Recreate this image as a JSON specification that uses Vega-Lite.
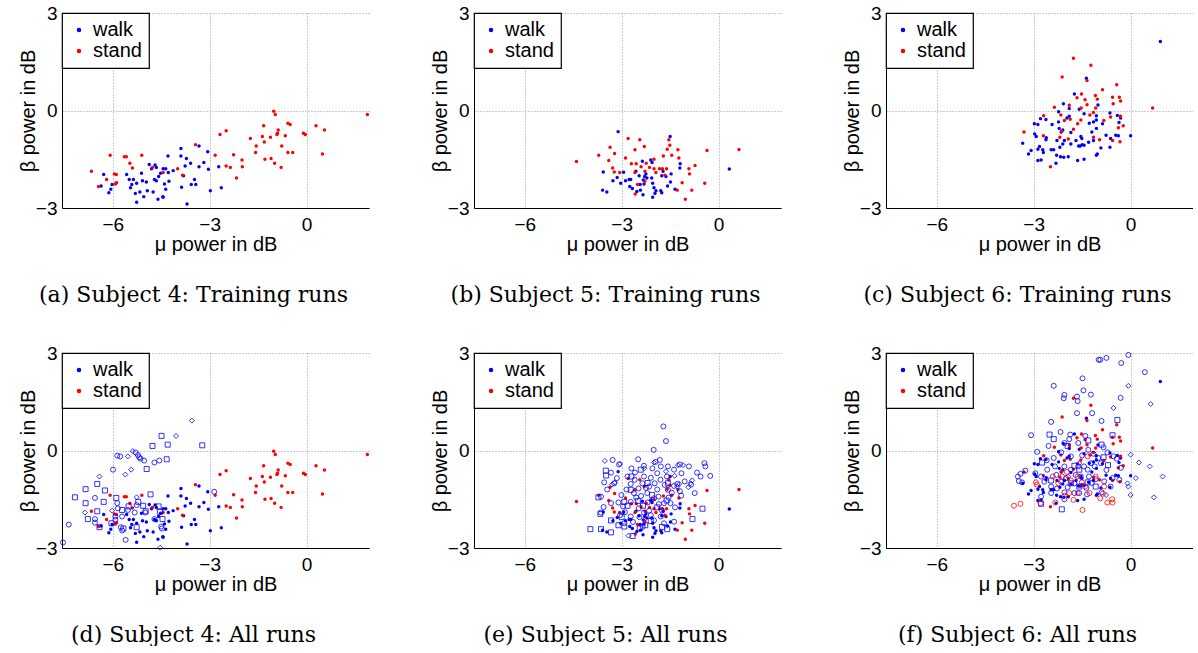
{
"$schema":"https://vega.github.io/schema/vega-lite/v6.json",
"background":"white",
"padding":{"left":18,"top":4,"right":0,"bottom":0},
"columns":3,
"bounds":"flush",
"spacing":{"row":145,"column":105},
"resolve":{"scale":{"color":"independent","shape":"independent"},"legend":{"color":"independent"}},
"datasets":{
"s4t":[
{"cls":"walk","mu":-3.33,"beta":-1.09},{"cls":"walk","mu":-3.89,"beta":-1.17},{"cls":"walk","mu":-3.06,"beta":-1.27},{"cls":"walk","mu":-4.29,"beta":-1.40},{"cls":"walk","mu":-3.89,"beta":-1.40},{"cls":"walk","mu":-3.72,"beta":-1.48},{"cls":"walk","mu":-3.59,"beta":-1.62},{"cls":"walk","mu":-3.76,"beta":-1.71},{"cls":"walk","mu":-3.33,"beta":-1.73},{"cls":"walk","mu":-3.18,"beta":-1.60},{"cls":"walk","mu":-3.04,"beta":-1.81},{"cls":"walk","mu":-2.72,"beta":-1.73},{"cls":"walk","mu":-3.81,"beta":-2.01},{"cls":"walk","mu":-4.13,"beta":-1.85},{"cls":"walk","mu":-4.36,"beta":-1.79},{"cls":"walk","mu":-4.44,"beta":-1.79},{"cls":"walk","mu":-4.65,"beta":-1.75},{"cls":"walk","mu":-4.69,"beta":-1.68},{"cls":"walk","mu":-4.87,"beta":-1.66},{"cls":"walk","mu":-4.80,"beta":-1.79},{"cls":"walk","mu":-4.52,"beta":-1.93},{"cls":"walk","mu":-4.58,"beta":-2.03},{"cls":"walk","mu":-4.71,"beta":-2.12},{"cls":"walk","mu":-4.65,"beta":-2.16},{"cls":"walk","mu":-4.28,"beta":-1.91},{"cls":"walk","mu":-4.26,"beta":-2.18},{"cls":"walk","mu":-4.40,"beta":-2.26},{"cls":"walk","mu":-4.36,"beta":-2.42},{"cls":"walk","mu":-4.45,"beta":-2.65},{"cls":"walk","mu":-4.60,"beta":-2.73},{"cls":"walk","mu":-4.44,"beta":-2.67},{"cls":"walk","mu":-4.75,"beta":-2.51},{"cls":"walk","mu":-5.04,"beta":-2.65},{"cls":"walk","mu":-4.96,"beta":-2.20},{"cls":"walk","mu":-5.08,"beta":-2.16},{"cls":"walk","mu":-5.11,"beta":-1.93},{"cls":"walk","mu":-4.93,"beta":-2.47},{"cls":"walk","mu":-5.16,"beta":-2.51},{"cls":"walk","mu":-5.26,"beta":-2.24},{"cls":"walk","mu":-5.30,"beta":-2.55},{"cls":"walk","mu":-5.26,"beta":-2.82},{"cls":"walk","mu":-5.36,"beta":-2.12},{"cls":"walk","mu":-5.49,"beta":-2.12},{"cls":"walk","mu":-5.45,"beta":-2.38},{"cls":"walk","mu":-5.41,"beta":-2.28},{"cls":"walk","mu":-5.57,"beta":-1.97},{"cls":"walk","mu":-6.02,"beta":-2.28},{"cls":"walk","mu":-6.06,"beta":-2.42},{"cls":"walk","mu":-6.12,"beta":-2.53},{"cls":"walk","mu":-6.28,"beta":-1.97},{"cls":"walk","mu":-6.36,"beta":-2.32},{"cls":"walk","mu":-3.87,"beta":-2.36},{"cls":"walk","mu":-3.57,"beta":-2.28},{"cls":"walk","mu":-3.43,"beta":-2.28},{"cls":"walk","mu":-3.47,"beta":-2.12},{"cls":"walk","mu":-2.98,"beta":-2.47},{"cls":"walk","mu":-2.64,"beta":-2.38},{"cls":"walk","mu":-3.70,"beta":-2.88},
{"cls":"stand","mu":1.88,"beta":-0.12},{"cls":"stand","mu":-1.02,"beta":-0.02},{"cls":"stand","mu":-0.97,"beta":-0.12},{"cls":"stand","mu":-0.58,"beta":-0.39},{"cls":"stand","mu":-0.51,"beta":-0.43},{"cls":"stand","mu":0.29,"beta":-0.47},{"cls":"stand","mu":0.55,"beta":-0.60},{"cls":"stand","mu":-0.10,"beta":-0.70},{"cls":"stand","mu":-0.04,"beta":-0.74},{"cls":"stand","mu":-1.33,"beta":-0.47},{"cls":"stand","mu":-0.88,"beta":-0.60},{"cls":"stand","mu":-0.66,"beta":-0.78},{"cls":"stand","mu":-0.90,"beta":-0.70},{"cls":"stand","mu":-0.92,"beta":-0.74},{"cls":"stand","mu":-1.12,"beta":-0.82},{"cls":"stand","mu":-1.37,"beta":-0.80},{"cls":"stand","mu":-1.31,"beta":-0.97},{"cls":"stand","mu":-1.74,"beta":-0.86},{"cls":"stand","mu":-1.56,"beta":-1.09},{"cls":"stand","mu":-1.58,"beta":-1.29},{"cls":"stand","mu":-0.77,"beta":-1.09},{"cls":"stand","mu":-0.58,"beta":-1.29},{"cls":"stand","mu":-0.43,"beta":-1.29},{"cls":"stand","mu":-1.10,"beta":-1.48},{"cls":"stand","mu":-1.29,"beta":-1.50},{"cls":"stand","mu":-0.99,"beta":-1.62},{"cls":"stand","mu":-0.79,"beta":-1.75},{"cls":"stand","mu":0.49,"beta":-1.34},{"cls":"stand","mu":-2.49,"beta":-0.62},{"cls":"stand","mu":-2.68,"beta":-0.74},{"cls":"stand","mu":-3.44,"beta":-1.05},{"cls":"stand","mu":-2.83,"beta":-1.38},{"cls":"stand","mu":-2.26,"beta":-1.36},{"cls":"stand","mu":-2.00,"beta":-1.52},{"cls":"stand","mu":-2.49,"beta":-1.71},{"cls":"stand","mu":-2.36,"beta":-1.75},{"cls":"stand","mu":-1.99,"beta":-1.73},{"cls":"stand","mu":-2.17,"beta":-2.08},{"cls":"stand","mu":-3.99,"beta":-1.79},{"cls":"stand","mu":-3.84,"beta":-1.99},{"cls":"stand","mu":-4.44,"beta":-1.91},{"cls":"stand","mu":-5.10,"beta":-1.38},{"cls":"stand","mu":-5.64,"beta":-1.42},{"cls":"stand","mu":-5.58,"beta":-1.42},{"cls":"stand","mu":-6.08,"beta":-1.38},{"cls":"stand","mu":-5.47,"beta":-1.62},{"cls":"stand","mu":-5.39,"beta":-1.77},{"cls":"stand","mu":-5.95,"beta":-1.95},{"cls":"stand","mu":-5.89,"beta":-1.97},{"cls":"stand","mu":-6.19,"beta":-2.12},{"cls":"stand","mu":-5.92,"beta":-2.26},{"cls":"stand","mu":-5.88,"beta":-2.22},{"cls":"stand","mu":-6.44,"beta":-2.34},{"cls":"stand","mu":-6.66,"beta":-1.87},{"cls":"stand","mu":-4.77,"beta":-1.75}
],
"s4o":[
{"cls":"walk","run":"R4","mu":-3.55,"beta":0.92},{"cls":"walk","run":"R4","mu":-4.04,"beta":0.45},{"cls":"walk","run":"R4","mu":-5.38,"beta":-0.02},{"cls":"walk","run":"R4","mu":-5.53,"beta":-0.18},{"cls":"walk","run":"R4","mu":-5.43,"beta":-0.59},{"cls":"walk","run":"R4","mu":-5.61,"beta":-0.74},{"cls":"walk","run":"R4","mu":-6.41,"beta":-0.80},{"cls":"walk","run":"R4","mu":-6.86,"beta":-1.91},{"cls":"walk","run":"R4","mu":-6.02,"beta":-1.85},{"cls":"walk","run":"R4","mu":-5.26,"beta":-1.44},{"cls":"walk","run":"R4","mu":-4.53,"beta":-2.99},
{"cls":"walk","run":"R3","mu":-4.49,"beta":0.45},{"cls":"walk","run":"R3","mu":-4.30,"beta":0.18},{"cls":"walk","run":"R3","mu":-4.77,"beta":0.14},{"cls":"walk","run":"R3","mu":-3.23,"beta":0.16},{"cls":"walk","run":"R3","mu":-4.33,"beta":-0.27},{"cls":"walk","run":"R3","mu":-4.95,"beta":-0.57},{"cls":"walk","run":"R3","mu":-6.48,"beta":-1.03},{"cls":"walk","run":"R3","mu":-6.84,"beta":-1.19},{"cls":"walk","run":"R3","mu":-6.24,"beta":-1.23},{"cls":"walk","run":"R3","mu":-7.17,"beta":-1.44},{"cls":"walk","run":"R3","mu":-6.84,"beta":-1.62},{"cls":"walk","run":"R3","mu":-6.28,"beta":-1.58},{"cls":"walk","run":"R3","mu":-5.89,"beta":-1.46},{"cls":"walk","run":"R3","mu":-6.48,"beta":-1.87},{"cls":"walk","run":"R3","mu":-6.77,"beta":-2.11},{"cls":"walk","run":"R3","mu":-6.41,"beta":-2.36},{"cls":"walk","run":"R3","mu":-6.04,"beta":-2.24},{"cls":"walk","run":"R3","mu":-5.26,"beta":-2.36},{"cls":"walk","run":"R3","mu":-4.83,"beta":-1.35},{"cls":"walk","run":"R3","mu":-5.06,"beta":-1.70},{"cls":"walk","run":"R3","mu":-4.98,"beta":-1.87},{"cls":"walk","run":"R3","mu":-5.51,"beta":-1.72},{"cls":"walk","run":"R3","mu":-5.71,"beta":-1.83},{"cls":"walk","run":"R3","mu":-5.21,"beta":-1.58},{"cls":"walk","run":"R3","mu":-4.58,"beta":-1.72},{"cls":"walk","run":"R3","mu":-4.54,"beta":-1.89},{"cls":"walk","run":"R3","mu":-4.46,"beta":-2.11},{"cls":"walk","run":"R3","mu":-5.67,"beta":-2.40},
{"cls":"walk","run":"R2","mu":-5.99,"beta":-0.59},{"cls":"walk","run":"R2","mu":-5.86,"beta":-0.16},{"cls":"walk","run":"R2","mu":-5.77,"beta":-0.18},{"cls":"walk","run":"R2","mu":-5.29,"beta":-0.06},{"cls":"walk","run":"R2","mu":-5.22,"beta":-0.14},{"cls":"walk","run":"R2","mu":-5.18,"beta":-0.21},{"cls":"walk","run":"R2","mu":-5.14,"beta":-0.25},{"cls":"walk","run":"R2","mu":-5.03,"beta":-0.31},{"cls":"walk","run":"R2","mu":-4.71,"beta":-0.37},{"cls":"walk","run":"R2","mu":-4.56,"beta":-0.31},{"cls":"walk","run":"R2","mu":-6.55,"beta":-1.46},{"cls":"walk","run":"R2","mu":-6.55,"beta":-2.11},{"cls":"walk","run":"R2","mu":-6.55,"beta":-2.22},{"cls":"walk","run":"R2","mu":-7.36,"beta":-2.28},{"cls":"walk","run":"R2","mu":-7.54,"beta":-2.83},{"cls":"walk","run":"R2","mu":-5.86,"beta":-1.62},{"cls":"walk","run":"R2","mu":-5.84,"beta":-1.78},{"cls":"walk","run":"R2","mu":-5.92,"beta":-2.03},{"cls":"walk","run":"R2","mu":-5.92,"beta":-2.13},{"cls":"walk","run":"R2","mu":-5.75,"beta":-2.36},{"cls":"walk","run":"R2","mu":-5.71,"beta":-2.46},{"cls":"walk","run":"R2","mu":-5.60,"beta":-2.75},{"cls":"walk","run":"R2","mu":-5.53,"beta":-1.83},{"cls":"walk","run":"R2","mu":-5.26,"beta":-1.68},{"cls":"walk","run":"R2","mu":-4.99,"beta":-1.91},{"cls":"walk","run":"R2","mu":-4.50,"beta":-2.34},{"cls":"walk","run":"R2","mu":-4.48,"beta":-2.40},{"cls":"walk","run":"R2","mu":-4.71,"beta":-2.11},{"cls":"walk","run":"R2","mu":-2.86,"beta":-1.27},{"cls":"walk","run":"R2","mu":-5.32,"beta":-1.91},{"cls":"walk","run":"R2","mu":-5.71,"beta":-2.03}
],
"s5t":[
{"cls":"walk","mu":-3.11,"beta":-0.65},{"cls":"walk","mu":-1.50,"beta":-0.80},{"cls":"walk","mu":0.33,"beta":-1.80},{"cls":"walk","mu":-1.19,"beta":-1.64},{"cls":"walk","mu":-1.20,"beta":-1.77},{"cls":"walk","mu":-1.47,"beta":-1.95},{"cls":"walk","mu":-1.72,"beta":-1.87},{"cls":"walk","mu":-1.76,"beta":-2.01},{"cls":"walk","mu":-1.63,"beta":-2.03},{"cls":"walk","mu":-1.49,"beta":-2.20},{"cls":"walk","mu":-1.58,"beta":-2.32},{"cls":"walk","mu":-1.35,"beta":-2.42},{"cls":"walk","mu":-1.79,"beta":-2.47},{"cls":"walk","mu":-1.76,"beta":-2.53},{"cls":"walk","mu":-1.94,"beta":-2.47},{"cls":"walk","mu":-2.00,"beta":-2.38},{"cls":"walk","mu":-1.97,"beta":-2.55},{"cls":"walk","mu":-2.04,"beta":-2.67},{"cls":"walk","mu":-2.36,"beta":-1.56},{"cls":"walk","mu":-2.10,"beta":-1.52},{"cls":"walk","mu":-2.06,"beta":-1.60},{"cls":"walk","mu":-2.25,"beta":-1.95},{"cls":"walk","mu":-2.29,"beta":-2.03},{"cls":"walk","mu":-2.33,"beta":-2.14},{"cls":"walk","mu":-2.31,"beta":-2.26},{"cls":"walk","mu":-2.22,"beta":-2.08},{"cls":"walk","mu":-2.04,"beta":-2.24},{"cls":"walk","mu":-2.07,"beta":-2.08},{"cls":"walk","mu":-2.46,"beta":-2.01},{"cls":"walk","mu":-2.43,"beta":-2.28},{"cls":"walk","mu":-2.56,"beta":-1.87},{"cls":"walk","mu":-2.72,"beta":-2.12},{"cls":"walk","mu":-2.77,"beta":-2.12},{"cls":"walk","mu":-2.75,"beta":-2.34},{"cls":"walk","mu":-2.67,"beta":-2.40},{"cls":"walk","mu":-2.53,"beta":-2.49},{"cls":"walk","mu":-2.42,"beta":-2.45},{"cls":"walk","mu":-2.34,"beta":-2.59},{"cls":"walk","mu":-2.88,"beta":-2.16},{"cls":"walk","mu":-2.94,"beta":-1.90},{"cls":"walk","mu":-3.03,"beta":-2.24},{"cls":"walk","mu":-3.14,"beta":-2.06},{"cls":"walk","mu":-3.27,"beta":-2.16},{"cls":"walk","mu":-3.57,"beta":-1.89},{"cls":"walk","mu":-3.59,"beta":-2.45},{"cls":"walk","mu":-3.46,"beta":-2.51},
{"cls":"stand","mu":0.63,"beta":-1.20},{"cls":"stand","mu":-0.36,"beta":-1.23},{"cls":"stand","mu":-0.43,"beta":-2.24},{"cls":"stand","mu":-0.73,"beta":-1.69},{"cls":"stand","mu":-0.92,"beta":-1.79},{"cls":"stand","mu":-0.90,"beta":-1.95},{"cls":"stand","mu":-0.83,"beta":-2.45},{"cls":"stand","mu":-1.13,"beta":-2.22},{"cls":"stand","mu":-1.28,"beta":-2.45},{"cls":"stand","mu":-1.03,"beta":-2.73},{"cls":"stand","mu":-1.26,"beta":-1.21},{"cls":"stand","mu":-1.23,"beta":-1.46},{"cls":"stand","mu":-1.45,"beta":-1.38},{"cls":"stand","mu":-1.51,"beta":-1.07},{"cls":"stand","mu":-1.54,"beta":-0.90},{"cls":"stand","mu":-1.59,"beta":-1.19},{"cls":"stand","mu":-1.71,"beta":-1.40},{"cls":"stand","mu":-1.83,"beta":-1.79},{"cls":"stand","mu":-1.74,"beta":-1.79},{"cls":"stand","mu":-1.61,"beta":-1.79},{"cls":"stand","mu":-1.66,"beta":-1.99},{"cls":"stand","mu":-2.00,"beta":-1.50},{"cls":"stand","mu":-2.00,"beta":-1.79},{"cls":"stand","mu":-1.94,"beta":-1.91},{"cls":"stand","mu":-2.30,"beta":-1.11},{"cls":"stand","mu":-2.59,"beta":-1.21},{"cls":"stand","mu":-2.44,"beta":-0.90},{"cls":"stand","mu":-2.80,"beta":-0.86},{"cls":"stand","mu":-2.88,"beta":-1.46},{"cls":"stand","mu":-2.70,"beta":-1.64},{"cls":"stand","mu":-2.55,"beta":-1.64},{"cls":"stand","mu":-2.40,"beta":-1.73},{"cls":"stand","mu":-2.24,"beta":-1.62},{"cls":"stand","mu":-2.14,"beta":-1.75},{"cls":"stand","mu":-2.28,"beta":-1.87},{"cls":"stand","mu":-2.59,"beta":-1.91},{"cls":"stand","mu":-2.28,"beta":-2.18},{"cls":"stand","mu":-2.51,"beta":-2.28},{"cls":"stand","mu":-2.58,"beta":-2.57},{"cls":"stand","mu":-3.36,"beta":-1.13},{"cls":"stand","mu":-3.71,"beta":-1.38},{"cls":"stand","mu":-3.40,"beta":-1.54},{"cls":"stand","mu":-3.28,"beta":-1.77},{"cls":"stand","mu":-3.23,"beta":-1.89},{"cls":"stand","mu":-3.06,"beta":-1.91},{"cls":"stand","mu":-3.22,"beta":-1.32},{"cls":"stand","mu":-4.40,"beta":-1.57}
],
"s5o":[
{"cls":"walk","run":"R2","mu":-1.71,"beta":0.74},{"cls":"walk","run":"R2","mu":-1.63,"beta":0.29},{"cls":"walk","run":"R2","mu":-2.01,"beta":0.02},{"cls":"walk","run":"R2","mu":-3.28,"beta":-0.29},{"cls":"walk","run":"R2","mu":-2.49,"beta":-0.27},{"cls":"walk","run":"R2","mu":-2.31,"beta":-0.47},{"cls":"walk","run":"R2","mu":-1.82,"beta":-0.29},{"cls":"walk","run":"R2","mu":-1.79,"beta":-0.49},{"cls":"walk","run":"R2","mu":-1.57,"beta":-0.49},{"cls":"walk","run":"R2","mu":-1.38,"beta":-0.59},{"cls":"walk","run":"R2","mu":-1.20,"beta":-0.43},{"cls":"walk","run":"R2","mu":-0.92,"beta":-0.49},{"cls":"walk","run":"R2","mu":-0.67,"beta":-0.68},{"cls":"walk","run":"R2","mu":-0.44,"beta":-0.39},{"cls":"walk","run":"R2","mu":-0.41,"beta":-0.49},{"cls":"walk","run":"R2","mu":-0.26,"beta":-0.78},{"cls":"walk","run":"R2","mu":-0.56,"beta":-0.80},{"cls":"walk","run":"R2","mu":-0.74,"beta":-1.31},{"cls":"walk","run":"R2","mu":-1.16,"beta":-1.39},{"cls":"walk","run":"R2","mu":-3.08,"beta":-0.43},{"cls":"walk","run":"R2","mu":-3.33,"beta":-0.68},{"cls":"walk","run":"R2","mu":-3.23,"beta":-1.01},{"cls":"walk","run":"R2","mu":-3.54,"beta":-0.98},{"cls":"walk","run":"R2","mu":-3.64,"beta":-1.42},{"cls":"walk","run":"R2","mu":-3.56,"beta":-1.74},{"cls":"walk","run":"R2","mu":-3.64,"beta":-1.91},{"cls":"walk","run":"R2","mu":-3.33,"beta":-1.62},{"cls":"walk","run":"R2","mu":-3.01,"beta":-1.37},{"cls":"walk","run":"R2","mu":-2.72,"beta":-1.58},{"cls":"walk","run":"R2","mu":-2.62,"beta":-1.31},{"cls":"walk","run":"R2","mu":-2.48,"beta":-1.17},{"cls":"walk","run":"R2","mu":-2.72,"beta":-1.03},{"cls":"walk","run":"R2","mu":-2.82,"beta":-0.80},{"cls":"walk","run":"R2","mu":-2.59,"beta":-0.68},{"cls":"walk","run":"R2","mu":-2.31,"beta":-0.80},{"cls":"walk","run":"R2","mu":-2.10,"beta":-0.84},{"cls":"walk","run":"R2","mu":-1.90,"beta":-0.70},{"cls":"walk","run":"R2","mu":-1.98,"beta":-1.01},{"cls":"walk","run":"R2","mu":-2.21,"beta":-1.31},{"cls":"walk","run":"R2","mu":-2.00,"beta":-1.47},{"cls":"walk","run":"R2","mu":-1.86,"beta":-1.42},{"cls":"walk","run":"R2","mu":-1.69,"beta":-1.62},{"cls":"walk","run":"R2","mu":-1.49,"beta":-1.62},{"cls":"walk","run":"R2","mu":-1.57,"beta":-1.21},{"cls":"walk","run":"R2","mu":-1.38,"beta":-1.09},{"cls":"walk","run":"R2","mu":-1.28,"beta":-1.03},{"cls":"walk","run":"R2","mu":-1.67,"beta":-1.06},{"cls":"walk","run":"R2","mu":-2.15,"beta":-1.11},{"cls":"walk","run":"R2","mu":-2.36,"beta":-1.01},{"cls":"walk","run":"R2","mu":-2.47,"beta":-1.78},{"cls":"walk","run":"R2","mu":-2.31,"beta":-1.91},{"cls":"walk","run":"R2","mu":-2.72,"beta":-2.03},{"cls":"walk","run":"R2","mu":-3.05,"beta":-1.99},{"cls":"walk","run":"R2","mu":-2.92,"beta":-2.24},{"cls":"walk","run":"R2","mu":-2.10,"beta":-1.99},{"cls":"walk","run":"R2","mu":-1.79,"beta":-2.03},{"cls":"walk","run":"R2","mu":-1.69,"beta":-2.24},{"cls":"walk","run":"R2","mu":-1.38,"beta":-2.19},{"cls":"walk","run":"R2","mu":-2.96,"beta":-1.72},{"cls":"walk","run":"R2","mu":-2.60,"beta":-0.90},{"cls":"walk","run":"R2","mu":-2.40,"beta":-1.40},{"cls":"walk","run":"R2","mu":-2.20,"beta":-1.60},{"cls":"walk","run":"R2","mu":-1.90,"beta":-1.20},{"cls":"walk","run":"R2","mu":-1.80,"beta":-0.90},{"cls":"walk","run":"R2","mu":-1.60,"beta":-0.80},{"cls":"walk","run":"R2","mu":-1.45,"beta":-1.30},{"cls":"walk","run":"R2","mu":-2.05,"beta":-0.55},{"cls":"walk","run":"R2","mu":-2.25,"beta":-1.15},{"cls":"walk","run":"R2","mu":-2.55,"beta":-1.45},{"cls":"walk","run":"R2","mu":-2.85,"beta":-1.20},{"cls":"walk","run":"R2","mu":-3.10,"beta":-1.60},{"cls":"walk","run":"R2","mu":-2.90,"beta":-1.90},{"cls":"walk","run":"R2","mu":-2.65,"beta":-2.20},{"cls":"walk","run":"R2","mu":-2.35,"beta":-2.35},{"cls":"walk","run":"R2","mu":-2.00,"beta":-2.15},{"cls":"walk","run":"R2","mu":-1.75,"beta":-1.85},{"cls":"walk","run":"R2","mu":-1.55,"beta":-1.45},{"cls":"walk","run":"R2","mu":-1.35,"beta":-1.75},{"cls":"walk","run":"R2","mu":-1.20,"beta":-1.25},{"cls":"walk","run":"R2","mu":-1.05,"beta":-0.95},{"cls":"walk","run":"R2","mu":-0.85,"beta":-1.05},{"cls":"walk","run":"R2","mu":-1.15,"beta":-0.70},{"cls":"walk","run":"R2","mu":-1.95,"beta":-0.35},{"cls":"walk","run":"R2","mu":-2.70,"beta":-0.55},{"cls":"walk","run":"R2","mu":-3.15,"beta":-0.85},{"cls":"walk","run":"R2","mu":-3.45,"beta":-1.20},{"cls":"walk","run":"R2","mu":-2.45,"beta":-2.05},{"cls":"walk","run":"R2","mu":-1.85,"beta":-1.65},{"cls":"walk","run":"R2","mu":-2.15,"beta":-1.85},
{"cls":"walk","run":"R3","mu":-3.49,"beta":-0.62},{"cls":"walk","run":"R3","mu":-3.48,"beta":-0.77},{"cls":"walk","run":"R3","mu":-3.72,"beta":-1.44},{"cls":"walk","run":"R3","mu":-3.97,"beta":-2.42},{"cls":"walk","run":"R3","mu":-3.64,"beta":-2.42},{"cls":"walk","run":"R3","mu":-3.33,"beta":-2.52},{"cls":"walk","run":"R3","mu":-3.66,"beta":-1.95},{"cls":"walk","run":"R3","mu":-3.33,"beta":-2.15},{"cls":"walk","run":"R3","mu":-2.92,"beta":-2.34},{"cls":"walk","run":"R3","mu":-2.66,"beta":-2.63},{"cls":"walk","run":"R3","mu":-2.44,"beta":-2.40},{"cls":"walk","run":"R3","mu":-2.27,"beta":-2.30},{"cls":"walk","run":"R3","mu":-2.10,"beta":-2.17},{"cls":"walk","run":"R3","mu":-2.70,"beta":-0.80},{"cls":"walk","run":"R3","mu":-2.72,"beta":-1.21},{"cls":"walk","run":"R3","mu":-2.82,"beta":-1.70},{"cls":"walk","run":"R3","mu":-2.92,"beta":-1.58},{"cls":"walk","run":"R3","mu":-2.34,"beta":-1.70},{"cls":"walk","run":"R3","mu":-2.06,"beta":-1.37},{"cls":"walk","run":"R3","mu":-1.61,"beta":-1.54},{"cls":"walk","run":"R3","mu":-1.57,"beta":-1.01},{"cls":"walk","run":"R3","mu":-0.81,"beta":-2.11},{"cls":"walk","run":"R3","mu":-0.50,"beta":-1.79},{"cls":"walk","run":"R3","mu":-1.59,"beta":-2.42},{"cls":"walk","run":"R3","mu":-2.41,"beta":-0.59},{"cls":"walk","run":"R3","mu":-3.10,"beta":-2.30},{"cls":"walk","run":"R3","mu":-2.50,"beta":-1.55},{"cls":"walk","run":"R3","mu":-1.90,"beta":-1.75},{"cls":"walk","run":"R3","mu":-2.20,"beta":-1.00},{"cls":"walk","run":"R3","mu":-1.75,"beta":-2.35},{"cls":"walk","run":"R3","mu":-3.00,"beta":-2.05},
{"cls":"walk","run":"R4","mu":-3.52,"beta":-0.32},{"cls":"walk","run":"R4","mu":-3.05,"beta":-0.41},{"cls":"walk","run":"R4","mu":-3.21,"beta":-0.98},{"cls":"walk","run":"R4","mu":-2.79,"beta":-2.62},{"cls":"walk","run":"R4","mu":-1.26,"beta":-0.45},{"cls":"walk","run":"R4","mu":-1.10,"beta":-0.45},{"cls":"walk","run":"R4","mu":-1.36,"beta":-0.78},{"cls":"walk","run":"R4","mu":-1.22,"beta":-1.03},{"cls":"walk","run":"R4","mu":-1.28,"beta":-1.11},{"cls":"walk","run":"R4","mu":-0.94,"beta":-1.13},{"cls":"walk","run":"R4","mu":-0.87,"beta":-1.01},{"cls":"walk","run":"R4","mu":-0.82,"beta":-0.92},{"cls":"walk","run":"R4","mu":-1.63,"beta":-0.64},{"cls":"walk","run":"R4","mu":-2.00,"beta":-0.37},{"cls":"walk","run":"R4","mu":-3.30,"beta":-1.05},{"cls":"walk","run":"R4","mu":-2.30,"beta":-0.55}
],
"s6t":[
{"cls":"walk","mu":0.92,"beta":2.12},{"cls":"walk","mu":-1.37,"beta":0.99},{"cls":"walk","mu":-1.74,"beta":0.51},{"cls":"walk","mu":-2.08,"beta":0.21},{"cls":"walk","mu":-1.01,"beta":0.17},{"cls":"walk","mu":-1.90,"beta":0.06},{"cls":"walk","mu":-1.59,"beta":0.04},{"cls":"walk","mu":-1.44,"beta":-0.10},{"cls":"walk","mu":-0.64,"beta":-0.08},{"cls":"walk","mu":-0.41,"beta":-0.15},{"cls":"walk","mu":-0.31,"beta":-0.23},{"cls":"walk","mu":-0.36,"beta":-0.37},{"cls":"walk","mu":-1.06,"beta":-0.16},{"cls":"walk","mu":-1.06,"beta":-0.29},{"cls":"walk","mu":-1.15,"beta":-0.35},{"cls":"walk","mu":-1.28,"beta":-0.39},{"cls":"walk","mu":-0.87,"beta":-0.41},{"cls":"walk","mu":-1.06,"beta":-0.55},{"cls":"walk","mu":-1.20,"beta":-0.66},{"cls":"walk","mu":-0.76,"beta":-0.76},{"cls":"walk","mu":-0.46,"beta":-0.76},{"cls":"walk","mu":-0.38,"beta":-0.78},{"cls":"walk","mu":0.00,"beta":-0.78},{"cls":"walk","mu":-1.54,"beta":-0.80},{"cls":"walk","mu":-1.51,"beta":-0.86},{"cls":"walk","mu":-0.62,"beta":-0.86},{"cls":"walk","mu":-1.15,"beta":-0.92},{"cls":"walk","mu":-1.30,"beta":-0.98},{"cls":"walk","mu":-1.50,"beta":-1.05},{"cls":"walk","mu":-1.61,"beta":-1.09},{"cls":"walk","mu":-1.56,"beta":-1.09},{"cls":"walk","mu":-1.44,"beta":-1.07},{"cls":"walk","mu":-0.64,"beta":-1.13},{"cls":"walk","mu":-0.92,"beta":-1.15},{"cls":"walk","mu":-1.03,"beta":-1.34},{"cls":"walk","mu":-1.06,"beta":-1.38},{"cls":"walk","mu":-1.44,"beta":-1.50},{"cls":"walk","mu":-1.64,"beta":-1.54},{"cls":"walk","mu":-1.93,"beta":-1.42},{"cls":"walk","mu":-2.07,"beta":-1.44},{"cls":"walk","mu":-2.17,"beta":-1.42},{"cls":"walk","mu":-2.29,"beta":-1.38},{"cls":"walk","mu":-2.31,"beta":-1.62},{"cls":"walk","mu":-2.46,"beta":-1.21},{"cls":"walk","mu":-2.38,"beta":-1.21},{"cls":"walk","mu":-2.72,"beta":-1.21},{"cls":"walk","mu":-2.87,"beta":-1.19},{"cls":"walk","mu":-2.70,"beta":-1.29},{"cls":"walk","mu":-2.82,"beta":-1.11},{"cls":"walk","mu":-2.62,"beta":-0.90},{"cls":"walk","mu":-2.61,"beta":-0.84},{"cls":"walk","mu":-2.97,"beta":-0.72},{"cls":"walk","mu":-2.92,"beta":-0.80},{"cls":"walk","mu":-3.34,"beta":-1.01},{"cls":"walk","mu":-3.16,"beta":-1.34},{"cls":"walk","mu":-3.08,"beta":-1.23},{"cls":"walk","mu":-2.87,"beta":-1.54},{"cls":"walk","mu":-2.77,"beta":-1.52},{"cls":"walk","mu":-2.98,"beta":-0.41},{"cls":"walk","mu":-2.87,"beta":-0.43},{"cls":"walk","mu":-2.79,"beta":-0.25},{"cls":"walk","mu":-2.62,"beta":-0.28},{"cls":"walk","mu":-2.43,"beta":-0.43},{"cls":"walk","mu":-2.23,"beta":-0.04},{"cls":"walk","mu":-2.23,"beta":-0.35},{"cls":"walk","mu":-2.21,"beta":-0.55},{"cls":"walk","mu":-2.28,"beta":-0.92},{"cls":"walk","mu":-2.15,"beta":-0.66},{"cls":"walk","mu":-2.10,"beta":-0.60},{"cls":"walk","mu":-2.05,"beta":-0.92},{"cls":"walk","mu":-1.97,"beta":-0.23},{"cls":"walk","mu":-1.90,"beta":-0.18},{"cls":"walk","mu":-1.85,"beta":-0.68},{"cls":"walk","mu":-1.69,"beta":-0.92},{"cls":"walk","mu":-1.85,"beta":-1.03},{"cls":"walk","mu":-2.10,"beta":-1.03},{"cls":"walk","mu":-2.19,"beta":-1.13},
{"cls":"stand","mu":-1.77,"beta":1.61},{"cls":"stand","mu":-1.23,"beta":1.39},{"cls":"stand","mu":-2.12,"beta":1.03},{"cls":"stand","mu":-1.35,"beta":0.92},{"cls":"stand","mu":-0.43,"beta":0.79},{"cls":"stand","mu":-0.87,"beta":0.64},{"cls":"stand","mu":-0.56,"beta":0.41},{"cls":"stand","mu":-0.35,"beta":0.41},{"cls":"stand","mu":-0.31,"beta":0.29},{"cls":"stand","mu":-0.54,"beta":0.21},{"cls":"stand","mu":-1.52,"beta":0.51},{"cls":"stand","mu":-1.66,"beta":0.39},{"cls":"stand","mu":-1.41,"beta":0.33},{"cls":"stand","mu":-1.09,"beta":0.46},{"cls":"stand","mu":-1.03,"beta":0.35},{"cls":"stand","mu":-1.35,"beta":0.18},{"cls":"stand","mu":-1.08,"beta":0.08},{"cls":"stand","mu":-1.53,"beta":0.08},{"cls":"stand","mu":-1.90,"beta":0.16},{"cls":"stand","mu":-2.36,"beta":0.10},{"cls":"stand","mu":-2.69,"beta":-0.16},{"cls":"stand","mu":-2.16,"beta":-0.14},{"cls":"stand","mu":-2.05,"beta":-0.31},{"cls":"stand","mu":-1.87,"beta":-0.27},{"cls":"stand","mu":-1.54,"beta":-0.29},{"cls":"stand","mu":-1.26,"beta":-0.14},{"cls":"stand","mu":-1.15,"beta":-0.06},{"cls":"stand","mu":-0.83,"beta":-0.31},{"cls":"stand","mu":-0.62,"beta":-0.20},{"cls":"stand","mu":-0.31,"beta":-0.18},{"cls":"stand","mu":-0.23,"beta":-0.47},{"cls":"stand","mu":-0.38,"beta":-0.53},{"cls":"stand","mu":-0.56,"beta":-0.92},{"cls":"stand","mu":-0.33,"beta":-0.96},{"cls":"stand","mu":-0.96,"beta":-0.90},{"cls":"stand","mu":-1.15,"beta":-0.82},{"cls":"stand","mu":-1.64,"beta":-0.41},{"cls":"stand","mu":-1.77,"beta":-0.58},{"cls":"stand","mu":-2.13,"beta":-0.64},{"cls":"stand","mu":-2.19,"beta":-0.82},{"cls":"stand","mu":-1.93,"beta":-0.88},{"cls":"stand","mu":-2.70,"beta":-0.78},{"cls":"stand","mu":-3.30,"beta":-0.66},{"cls":"stand","mu":-2.48,"beta":-1.73},{"cls":"stand","mu":0.68,"beta":0.08}
],
"s6o":[
{"cls":"walk","run":"R2","mu":-0.75,"beta":2.85},{"cls":"walk","run":"R2","mu":-0.99,"beta":2.79},{"cls":"walk","run":"R2","mu":-0.94,"beta":2.79},{"cls":"walk","run":"R2","mu":-0.07,"beta":2.94},{"cls":"walk","run":"R2","mu":-0.29,"beta":2.69},{"cls":"walk","run":"R2","mu":0.44,"beta":2.41},{"cls":"walk","run":"R2","mu":-2.38,"beta":1.99},{"cls":"walk","run":"R2","mu":-1.49,"beta":2.22},{"cls":"walk","run":"R2","mu":-2.05,"beta":1.71},{"cls":"walk","run":"R2","mu":-2.07,"beta":1.61},{"cls":"walk","run":"R2","mu":-1.46,"beta":1.85},{"cls":"walk","run":"R2","mu":-1.23,"beta":1.72},{"cls":"walk","run":"R2","mu":-1.66,"beta":1.66},{"cls":"walk","run":"R2","mu":-1.64,"beta":1.52},{"cls":"walk","run":"R2","mu":-0.31,"beta":1.62},{"cls":"walk","run":"R2","mu":-1.66,"beta":1.15},{"cls":"walk","run":"R2","mu":-1.19,"beta":1.15},{"cls":"walk","run":"R2","mu":-0.90,"beta":0.91},{"cls":"walk","run":"R2","mu":-2.46,"beta":0.88},{"cls":"walk","run":"R2","mu":-3.08,"beta":0.47},{"cls":"walk","run":"R2","mu":-2.17,"beta":0.57},{"cls":"walk","run":"R2","mu":-1.87,"beta":0.49},{"cls":"walk","run":"R2","mu":-2.54,"beta":0.14},{"cls":"walk","run":"R2","mu":-2.05,"beta":0.23},{"cls":"walk","run":"R2","mu":-2.89,"beta":-0.04},{"cls":"walk","run":"R2","mu":-2.38,"beta":-0.23},{"cls":"walk","run":"R2","mu":-2.15,"beta":-0.06},{"cls":"walk","run":"R2","mu":-1.85,"beta":-0.18},{"cls":"walk","run":"R2","mu":-1.62,"beta":0.23},{"cls":"walk","run":"R2","mu":-1.31,"beta":0.02},{"cls":"walk","run":"R2","mu":-1.15,"beta":-0.10},{"cls":"walk","run":"R2","mu":-0.84,"beta":0.10},{"cls":"walk","run":"R2","mu":-0.72,"beta":-0.06},{"cls":"walk","run":"R2","mu":-0.53,"beta":-0.18},{"cls":"walk","run":"R2","mu":-0.92,"beta":-0.39},{"cls":"walk","run":"R2","mu":-1.11,"beta":-0.49},{"cls":"walk","run":"R2","mu":-1.33,"beta":-0.59},{"cls":"walk","run":"R2","mu":-1.44,"beta":-0.49},{"cls":"walk","run":"R2","mu":-1.62,"beta":-0.49},{"cls":"walk","run":"R2","mu":-1.85,"beta":-0.59},{"cls":"walk","run":"R2","mu":-2.05,"beta":-0.49},{"cls":"walk","run":"R2","mu":-2.34,"beta":-0.49},{"cls":"walk","run":"R2","mu":-2.58,"beta":-0.59},{"cls":"walk","run":"R2","mu":-2.95,"beta":-0.70},{"cls":"walk","run":"R2","mu":-3.26,"beta":-0.62},{"cls":"walk","run":"R2","mu":-3.41,"beta":-0.72},{"cls":"walk","run":"R2","mu":-3.49,"beta":-0.80},{"cls":"walk","run":"R2","mu":-3.46,"beta":-0.94},{"cls":"walk","run":"R2","mu":-3.36,"beta":-0.98},{"cls":"walk","run":"R2","mu":-2.77,"beta":-0.80},{"cls":"walk","run":"R2","mu":-2.67,"beta":-0.96},{"cls":"walk","run":"R2","mu":-2.46,"beta":-1.11},{"cls":"walk","run":"R2","mu":-2.28,"beta":-1.17},{"cls":"walk","run":"R2","mu":-2.15,"beta":-0.96},{"cls":"walk","run":"R2","mu":-1.95,"beta":-1.13},{"cls":"walk","run":"R2","mu":-1.74,"beta":-1.01},{"cls":"walk","run":"R2","mu":-1.54,"beta":-0.80},{"cls":"walk","run":"R2","mu":-1.29,"beta":-0.80},{"cls":"walk","run":"R2","mu":-1.08,"beta":-0.88},{"cls":"walk","run":"R2","mu":-0.82,"beta":-0.95},{"cls":"walk","run":"R2","mu":-0.56,"beta":-0.85},{"cls":"walk","run":"R2","mu":-0.35,"beta":-0.90},{"cls":"walk","run":"R2","mu":-0.62,"beta":-1.11},{"cls":"walk","run":"R2","mu":-0.90,"beta":-1.29},{"cls":"walk","run":"R2","mu":-1.37,"beta":-1.15},{"cls":"walk","run":"R2","mu":-1.59,"beta":-1.31},{"cls":"walk","run":"R2","mu":-2.05,"beta":-1.29},{"cls":"walk","run":"R2","mu":-1.74,"beta":-1.31},{"cls":"walk","run":"R2","mu":-2.05,"beta":-1.50},{"cls":"walk","run":"R2","mu":-2.46,"beta":-1.31},{"cls":"walk","run":"R2","mu":-2.77,"beta":-1.42},{"cls":"walk","run":"R2","mu":-1.23,"beta":-0.39},{"cls":"walk","run":"R2","mu":-1.00,"beta":-0.23},{"cls":"walk","run":"R2","mu":-0.43,"beta":-0.25},{"cls":"walk","run":"R2","mu":-0.30,"beta":-0.53},{"cls":"walk","run":"R2","mu":-1.90,"beta":0.35},{"cls":"walk","run":"R2","mu":-1.40,"beta":0.45},{"cls":"walk","run":"R2","mu":-2.60,"beta":-0.30},{"cls":"walk","run":"R2","mu":-1.70,"beta":-0.75},{"cls":"walk","run":"R2","mu":-1.20,"beta":-1.00},{"cls":"walk","run":"R2","mu":-2.30,"beta":-0.75},{"cls":"walk","run":"R2","mu":-0.75,"beta":-0.60},{"cls":"walk","run":"R2","mu":-1.50,"beta":-0.15},{"cls":"walk","run":"R2","mu":-2.00,"beta":-0.85},{"cls":"walk","run":"R2","mu":-1.35,"beta":-1.35},
{"cls":"walk","run":"R3","mu":-0.41,"beta":0.94},{"cls":"walk","run":"R3","mu":-0.56,"beta":0.47},{"cls":"walk","run":"R3","mu":-2.51,"beta":0.49},{"cls":"walk","run":"R3","mu":-2.38,"beta":0.35},{"cls":"walk","run":"R3","mu":-1.95,"beta":0.14},{"cls":"walk","run":"R3","mu":-1.31,"beta":0.31},{"cls":"walk","run":"R3","mu":-0.90,"beta":0.18},{"cls":"walk","run":"R3","mu":-0.84,"beta":-0.21},{"cls":"walk","run":"R3","mu":-0.70,"beta":-0.45},{"cls":"walk","run":"R3","mu":-1.74,"beta":-0.47},{"cls":"walk","run":"R3","mu":-1.59,"beta":-0.59},{"cls":"walk","run":"R3","mu":-1.85,"beta":-1.01},{"cls":"walk","run":"R3","mu":-2.74,"beta":-0.37},{"cls":"walk","run":"R3","mu":-2.46,"beta":-0.92},{"cls":"walk","run":"R3","mu":-2.77,"beta":-1.64},{"cls":"walk","run":"R3","mu":-2.13,"beta":-1.81},{"cls":"walk","run":"R3","mu":-1.59,"beta":-1.11},{"cls":"walk","run":"R3","mu":-1.08,"beta":-1.11},{"cls":"walk","run":"R3","mu":-1.33,"beta":-0.98},
{"cls":"walk","run":"R4","mu":-0.07,"beta":1.99},{"cls":"walk","run":"R4","mu":-0.53,"beta":1.31},{"cls":"walk","run":"R4","mu":0.62,"beta":1.43},{"cls":"walk","run":"R4","mu":0.00,"beta":-0.13},{"cls":"walk","run":"R4","mu":0.26,"beta":-0.37},{"cls":"walk","run":"R4","mu":0.59,"beta":-0.49},{"cls":"walk","run":"R4","mu":0.99,"beta":-0.80},{"cls":"walk","run":"R4","mu":0.16,"beta":-0.85},{"cls":"walk","run":"R4","mu":-0.10,"beta":-1.01},{"cls":"walk","run":"R4","mu":-0.07,"beta":-1.11},{"cls":"walk","run":"R4","mu":0.00,"beta":-1.37},{"cls":"walk","run":"R4","mu":0.72,"beta":-1.44},{"cls":"walk","run":"R4","mu":-0.76,"beta":-1.37},{"cls":"walk","run":"R4","mu":-1.59,"beta":-0.39},{"cls":"walk","run":"R4","mu":-1.93,"beta":-0.80},
{"cls":"stand","run":"R2","mu":-3.61,"beta":-1.70},{"cls":"stand","run":"R2","mu":-3.41,"beta":-1.64},{"cls":"stand","run":"R2","mu":-2.93,"beta":-0.98},{"cls":"stand","run":"R2","mu":-2.90,"beta":-1.05},{"cls":"stand","run":"R2","mu":-2.79,"beta":-1.62},{"cls":"stand","run":"R2","mu":-2.33,"beta":-1.60},{"cls":"stand","run":"R2","mu":-2.05,"beta":-1.39},{"cls":"stand","run":"R2","mu":-1.90,"beta":-1.31},{"cls":"stand","run":"R2","mu":-1.77,"beta":-1.52},{"cls":"stand","run":"R2","mu":-1.64,"beta":-1.31},{"cls":"stand","run":"R2","mu":-1.49,"beta":-1.83},{"cls":"stand","run":"R2","mu":-1.51,"beta":-0.98},{"cls":"stand","run":"R2","mu":-1.41,"beta":-1.11},{"cls":"stand","run":"R2","mu":-1.27,"beta":-1.31},{"cls":"stand","run":"R2","mu":-0.94,"beta":-1.47},{"cls":"stand","run":"R2","mu":-0.86,"beta":-1.33},{"cls":"stand","run":"R2","mu":-0.72,"beta":-1.60},{"cls":"stand","run":"R2","mu":-0.56,"beta":-1.60},{"cls":"stand","run":"R2","mu":-0.57,"beta":-1.50},{"cls":"stand","run":"R2","mu":-2.41,"beta":-0.80},{"cls":"stand","run":"R2","mu":-2.12,"beta":-0.80},{"cls":"stand","run":"R2","mu":-1.85,"beta":-0.92},{"cls":"stand","run":"R2","mu":-1.64,"beta":-0.80},{"cls":"stand","run":"R2","mu":-1.08,"beta":-0.80},{"cls":"stand","run":"R2","mu":-0.82,"beta":-1.11},{"cls":"stand","run":"R2","mu":-1.33,"beta":-0.18},{"cls":"stand","run":"R2","mu":-1.97,"beta":-0.66},{"cls":"stand","run":"R2","mu":-2.24,"beta":-1.01}
]
},
"concat":[
{"width":307,"height":195,"title":{"text":"(a) Subject 4: Training runs"},"data":{"name":"s4t"},
 "mark":{"type":"point","filled":true,"size":12,"opacity":1},
 "encoding":{
  "x":{"field":"mu","type":"quantitative","scale":{"domain":[-7.57,1.93],"nice":false,"zero":false},"axis":{"values":[-6,-3,0],"title":"μ power in dB"}},
  "y":{"field":"beta","type":"quantitative","scale":{"domain":[-3,3],"nice":false,"zero":false},"axis":{"values":[-3,0,3],"title":"β power in dB"}},
  "color":{"field":"cls","type":"nominal","scale":{"domain":["walk","stand"],"range":["#0000ff","#ff0000"]},"legend":{"title":null}}}},
{"width":307,"height":195,"title":{"text":"(b) Subject 5: Training runs"},"data":{"name":"s5t"},
 "mark":{"type":"point","filled":true,"size":12,"opacity":1},
 "encoding":{
  "x":{"field":"mu","type":"quantitative","scale":{"domain":[-7.57,1.93],"nice":false,"zero":false},"axis":{"values":[-6,-3,0],"title":"μ power in dB"}},
  "y":{"field":"beta","type":"quantitative","scale":{"domain":[-3,3],"nice":false,"zero":false},"axis":{"values":[-3,0,3],"title":"β power in dB"}},
  "color":{"field":"cls","type":"nominal","scale":{"domain":["walk","stand"],"range":["#0000ff","#ff0000"]},"legend":{"title":null}}}},
{"width":307,"height":195,"title":{"text":"(c) Subject 6: Training runs"},"data":{"name":"s6t"},
 "mark":{"type":"point","filled":true,"size":12,"opacity":1},
 "encoding":{
  "x":{"field":"mu","type":"quantitative","scale":{"domain":[-7.57,1.93],"nice":false,"zero":false},"axis":{"values":[-6,-3,0],"title":"μ power in dB"}},
  "y":{"field":"beta","type":"quantitative","scale":{"domain":[-3,3],"nice":false,"zero":false},"axis":{"values":[-3,0,3],"title":"β power in dB"}},
  "color":{"field":"cls","type":"nominal","scale":{"domain":["walk","stand"],"range":["#0000ff","#ff0000"]},"legend":{"title":null}}}},
{"width":307,"height":195,"title":{"text":"(d) Subject 4: All runs"},
 "layer":[
  {"data":{"name":"s4t"},"mark":{"type":"point","filled":true,"size":12,"opacity":1},
   "encoding":{
    "x":{"field":"mu","type":"quantitative","scale":{"domain":[-7.57,1.93],"nice":false,"zero":false},"axis":{"values":[-6,-3,0],"title":"μ power in dB"}},
    "y":{"field":"beta","type":"quantitative","scale":{"domain":[-3,3],"nice":false,"zero":false},"axis":{"values":[-3,0,3],"title":"β power in dB"}},
    "color":{"field":"cls","type":"nominal","scale":{"domain":["walk","stand"],"range":["#0000ff","#ff0000"]},"legend":{"title":null}}}},
  {"data":{"name":"s4o"},"mark":{"type":"point","filled":false,"size":25,"strokeWidth":0.8,"opacity":1},
   "encoding":{
    "x":{"field":"mu","type":"quantitative"},
    "y":{"field":"beta","type":"quantitative"},
    "color":{"field":"cls","type":"nominal","legend":null},
    "shape":{"field":"run","type":"nominal","scale":{"domain":["R2","R3","R4"],"range":["circle","square","diamond"]},"legend":null}}}
 ]},
{"width":307,"height":195,"title":{"text":"(e) Subject 5: All runs"},
 "layer":[
  {"data":{"name":"s5t"},"mark":{"type":"point","filled":true,"size":12,"opacity":1},
   "encoding":{
    "x":{"field":"mu","type":"quantitative","scale":{"domain":[-7.57,1.93],"nice":false,"zero":false},"axis":{"values":[-6,-3,0],"title":"μ power in dB"}},
    "y":{"field":"beta","type":"quantitative","scale":{"domain":[-3,3],"nice":false,"zero":false},"axis":{"values":[-3,0,3],"title":"β power in dB"}},
    "color":{"field":"cls","type":"nominal","scale":{"domain":["walk","stand"],"range":["#0000ff","#ff0000"]},"legend":{"title":null}}}},
  {"data":{"name":"s5o"},"mark":{"type":"point","filled":false,"size":25,"strokeWidth":0.8,"opacity":1},
   "encoding":{
    "x":{"field":"mu","type":"quantitative"},
    "y":{"field":"beta","type":"quantitative"},
    "color":{"field":"cls","type":"nominal","legend":null},
    "shape":{"field":"run","type":"nominal","scale":{"domain":["R2","R3","R4"],"range":["circle","square","diamond"]},"legend":null}}}
 ]},
{"width":307,"height":195,"title":{"text":"(f) Subject 6: All runs"},
 "layer":[
  {"data":{"name":"s6t"},"mark":{"type":"point","filled":true,"size":12,"opacity":1},
   "encoding":{
    "x":{"field":"mu","type":"quantitative","scale":{"domain":[-7.57,1.93],"nice":false,"zero":false},"axis":{"values":[-6,-3,0],"title":"μ power in dB"}},
    "y":{"field":"beta","type":"quantitative","scale":{"domain":[-3,3],"nice":false,"zero":false},"axis":{"values":[-3,0,3],"title":"β power in dB"}},
    "color":{"field":"cls","type":"nominal","scale":{"domain":["walk","stand"],"range":["#0000ff","#ff0000"]},"legend":{"title":null}}}},
  {"data":{"name":"s6o"},"mark":{"type":"point","filled":false,"size":25,"strokeWidth":0.8,"opacity":1},
   "encoding":{
    "x":{"field":"mu","type":"quantitative"},
    "y":{"field":"beta","type":"quantitative"},
    "color":{"field":"cls","type":"nominal","legend":null},
    "shape":{"field":"run","type":"nominal","scale":{"domain":["R2","R3","R4"],"range":["circle","square","diamond"]},"legend":null}}}
 ]}
],
"config":{
 "font":"Liberation Sans",
 "view":{"stroke":null},
 "axis":{"labelFont":"Liberation Sans","labelFontSize":19,"labelColor":"#000","titleFont":"Liberation Sans","titleFontSize":20,"titleFontWeight":"normal","titleColor":"#000","domainColor":"#000","domainWidth":1,"ticks":false,"grid":true,"gridColor":"#999","gridDash":[1,2],"gridOpacity":1},
 "axisX":{"labelPadding":7,"titlePadding":0},
 "axisY":{"labelPadding":5,"titlePadding":-3},
 "legend":{"orient":"top-left","offset":0,"fillColor":"#fff","strokeColor":"#000","strokeWidth":1.2,"padding":7,"labelFont":"Liberation Sans","labelFontSize":20,"labelColor":"#000","symbolType":"circle","symbolSize":20,"symbolStrokeWidth":0,"labelOffset":4,"rowPadding":1},
 "title":{"font":"DejaVu Serif","fontSize":22,"fontWeight":"normal","orient":"bottom","offset":31,"dx":-22,"color":"#000"}
}
}
